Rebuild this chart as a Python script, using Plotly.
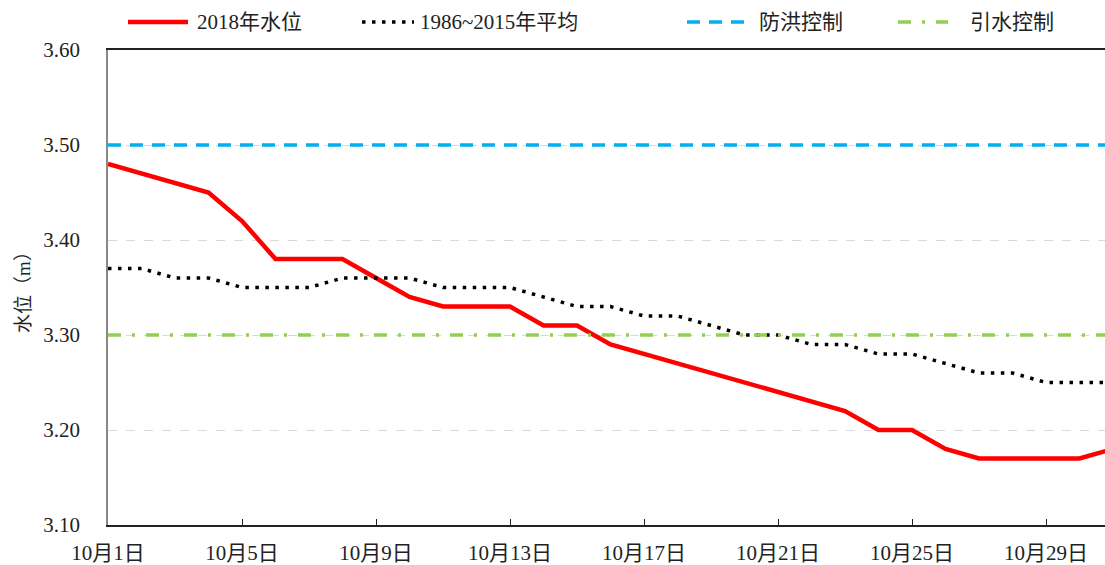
import plotly.graph_objects as go

days = list(range(1, 32))
tick_days = [1, 5, 9, 13, 17, 21, 25, 29]
tick_labels = ["10月1日", "10月5日", "10月9日", "10月13日", "10月17日", "10月21日", "10月25日", "10月29日"]

level_2018 = [3.48, 3.47, 3.46, 3.45, 3.42, 3.38, 3.38, 3.38, 3.36, 3.34,
              3.33, 3.33, 3.33, 3.31, 3.31, 3.29, 3.28, 3.27, 3.26, 3.25,
              3.24, 3.23, 3.22, 3.20, 3.20, 3.18, 3.17, 3.17, 3.17, 3.17, 3.18]
level_avg = [3.37, 3.37, 3.36, 3.36, 3.35, 3.35, 3.35, 3.36, 3.36, 3.36,
             3.35, 3.35, 3.35, 3.34, 3.33, 3.33, 3.32, 3.32, 3.31, 3.30,
             3.30, 3.29, 3.29, 3.28, 3.28, 3.27, 3.26, 3.26, 3.25, 3.25, 3.25]
flood_ctrl = 3.50
divert_ctrl = 3.30

series_names = ["2018年水位", "1986~2015年平均", "防洪控制", "引水控制"]
series_colors = ["#FF0000", "#000000", "#00B0F0", "#92D050"]
series_widths = [4.5, 3.5, 3.5, 3.5]
series_dash = ["solid", "3.5px,6.5px", "13px,9px", "13px,11px,3px,11px"]

serif = "Liberation Serif, Times New Roman, Noto Sans CJK SC, serif"

W, H = 1105, 565
L, R, T, B = 108, 0, 50, 40
pw, ph = W - L - R, H - T - B

fig = go.Figure()
ys = [level_2018, level_avg, None, None]
for i, name in enumerate(series_names):
    if i == 0 or i == 1:
        x, y = days, ys[i]
    elif i == 2:
        x, y = [days[0], days[-1]], [flood_ctrl, flood_ctrl]
    else:
        x, y = [days[0], days[-1]], [divert_ctrl, divert_ctrl]
    fig.add_trace(go.Scatter(x=x, y=y, mode="lines", name=name, showlegend=False,
                             line=dict(color=series_colors[i], width=series_widths[i],
                                       dash=series_dash[i])))

# manual legend (pixel positions converted to paper coords)
leg_y_px = 22
leg_items = [(128, 188, 195), (362, 414, 418), (687, 750, 757), (898, 948, 968)]
py = 1 + (T - leg_y_px) / ph
for i, (x0, x1, xt) in enumerate(leg_items):
    fig.add_shape(type="line", xref="paper", yref="paper",
                  x0=(x0 - L) / pw, x1=(x1 - L) / pw, y0=py, y1=py,
                  line=dict(color=series_colors[i], width=series_widths[i], dash=series_dash[i]))
    fig.add_annotation(xref="paper", yref="paper", x=(xt - L) / pw, y=py,
                       xanchor="left", yanchor="middle", showarrow=False,
                       text=series_names[i], font=dict(size=21, family=serif, color="#222"))

fig.update_layout(
    width=W, height=H,
    margin=dict(l=L, r=R, t=T, b=B, autoexpand=False),
    paper_bgcolor="white", plot_bgcolor="white",
    font=dict(family=serif, size=21, color="#222"),
    showlegend=False,
    xaxis=dict(range=[1, 1 + pw / 33.5], tickvals=tick_days, ticktext=tick_labels,
               showgrid=False, zeroline=False, showline=True, linecolor="#222", linewidth=1.5,
               mirror=True, ticks="inside", ticklen=6, tickcolor="#222", automargin=False,
               ticklabelstandoff=8, tickfont=dict(size=21)),
    yaxis=dict(range=[3.10, 3.60], tickvals=[3.1, 3.2, 3.3, 3.4, 3.5, 3.6], tickformat=".2f",
               showgrid=True, gridcolor="#D9D9D9", griddash="dash", gridwidth=1,
               zeroline=False, showline=True, linecolor="#888", linewidth=1.5, automargin=False,
               ticks="", ticklabelstandoff=22, tickfont=dict(size=21),
               title=dict(text="水位（m）", font=dict(size=19), standoff=8)),
)

fig.write_html("out.html", config={"displayModeBar": False},
               post_script="document.body.style.margin='0';")
